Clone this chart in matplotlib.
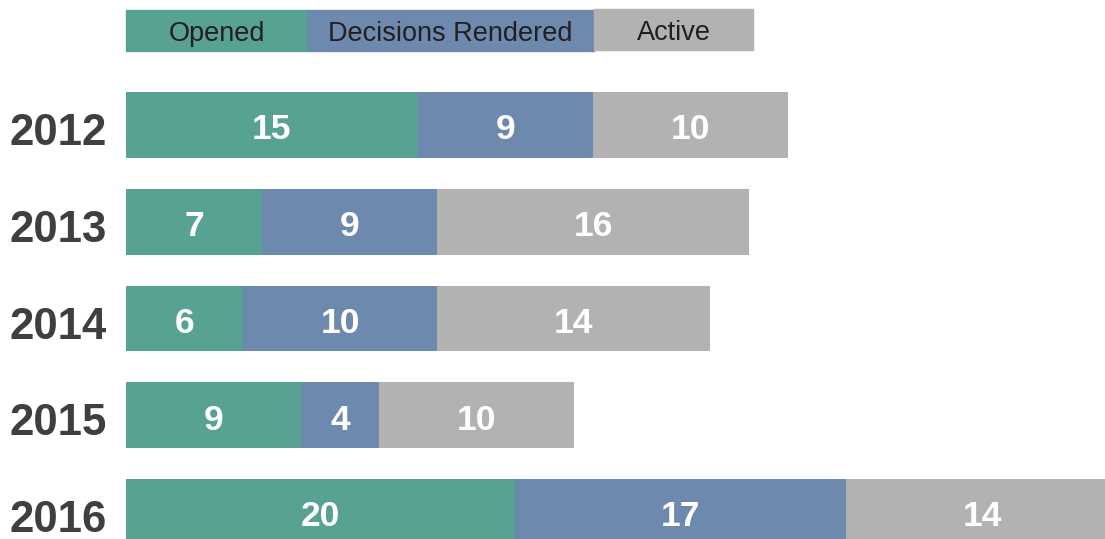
import matplotlib.pyplot as plt
from matplotlib.patches import Rectangle
from matplotlib.transforms import ScaledTranslation
import numpy as np

plt.rcParams['font.family'] = ['Liberation Sans', 'DejaVu Sans']

# data
years = ['2012', '2013', '2014', '2015', '2016']
opened = [15, 7, 6, 9, 20]
decisions = [9, 9, 10, 4, 17]
active = [10, 16, 14, 10, 14]

series_names = ['Opened', 'Decisions Rendered', 'Active']
colors = ['#57a293', '#6e89ae', '#b3b2b3']

W, H = 1105, 539
fig = plt.figure(figsize=(W / 100, H / 100), dpi=100)
ax = fig.add_axes([126 / W, 0, 1 - 126 / W, 1])

pos = np.arange(len(years))
left = np.zeros(len(years))
for vals, col in zip([opened, decisions, active], colors):
    bars = ax.barh(pos, vals, left=left, height=0.68, color=col, edgecolor='none')
    for b, v in zip(bars, vals):
        ax.text(b.get_x() + b.get_width() / 2, b.get_y() + b.get_height() / 2 + 0.05,
                str(v), ha='center', va='center', color='white',
                fontsize=25.5, fontweight='bold')
    left += np.array(vals)

ax.set_xlim(0, 50.3)
ax.set_ylim(4.279, -1.292)
ax.set_yticks(pos)
ax.set_yticklabels(years, fontsize=31.5, fontweight='bold', color='#3f3f3f')
ax.tick_params(axis='y', length=0, pad=14)
ax.tick_params(axis='x', bottom=False, labelbottom=False)
shift = ScaledTranslation(0, -4 / 100, fig.dpi_scale_trans)
for lab in ax.get_yticklabels():
    lab.set_transform(lab.get_transform() + shift)
for s in ax.spines.values():
    s.set_visible(False)

# legend drawn as a strip of boxes at the top
box_edges = [126, 307, 594, 753]
box_tops = [10, 10, 9]
box_h = 41
for i, name in enumerate(series_names):
    x0, x1 = box_edges[i], box_edges[i + 1]
    y0 = H - box_tops[i] - box_h
    fig.text((x0 + x1) / 2 / W, (y0 + box_h / 2 - 3.5) / H, name,
             ha='center', va='center', fontsize=19.5, color='#231f20')
    fig.patches.append(Rectangle((x0 / W, y0 / H), (x1 - x0) / W, box_h / H,
                                 transform=fig.transFigure, color=colors[i]))

fig.savefig('out.png', dpi=100)
